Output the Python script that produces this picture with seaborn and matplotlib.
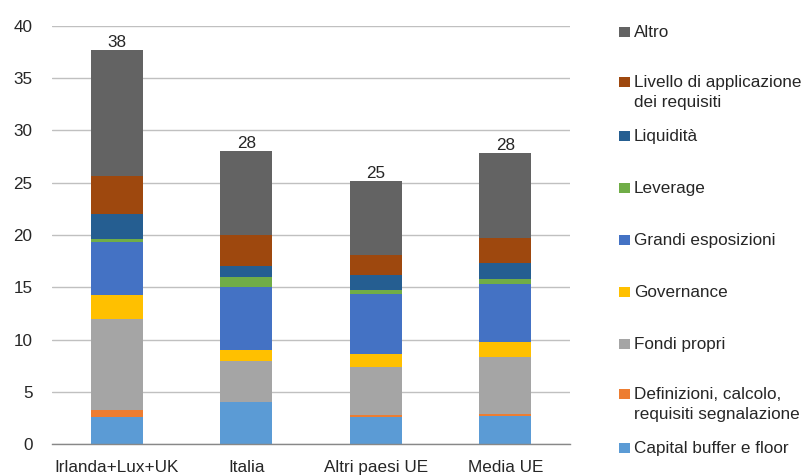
import numpy as np
import pandas as pd
import matplotlib
matplotlib.use("Agg")
import matplotlib.pyplot as plt
from matplotlib.patches import Rectangle
import seaborn as sns

# Country groups on the x axis
groups = ["Irlanda+Lux+UK", "Italia", "Altri paesi UE", "Media UE"]

# Stacked components, bottom to top
capital_buffer = [2.64, 4.0, 2.60, 2.70]
definizioni = [0.66, 0.0, 0.16, 0.19]
fondi_propri = [8.64, 4.0, 4.64, 5.48]
governance = [2.35, 1.0, 1.21, 1.37]
grandi_esposizioni = [5.00, 6.0, 5.76, 5.60]
leverage = [0.35, 1.0, 0.33, 0.42]
liquidita = [2.33, 1.0, 1.43, 1.59]
livello_applicazione = [3.66, 3.0, 1.94, 2.35]
altro = [12.03, 8.0, 7.10, 8.10]

series_names = [
    "Capital buffer e floor",
    "Definizioni, calcolo,\nrequisiti segnalazione",
    "Fondi propri",
    "Governance",
    "Grandi esposizioni",
    "Leverage",
    "Liquidità",
    "Livello di applicazione\ndei requisiti",
    "Altro",
]
series_values = [capital_buffer, definizioni, fondi_propri, governance,
                 grandi_esposizioni, leverage, liquidita,
                 livello_applicazione, altro]
colors = ["#5B9BD5", "#ED7D31", "#A5A5A5", "#FFC000", "#4472C4",
          "#70AD47", "#255E91", "#9E480E", "#636363"]

sns.set_style("white")
plt.rcParams["font.family"] = ["Liberation Sans", "DejaVu Sans"]

W, H = 806, 475
fig = plt.figure(figsize=(W / 100, H / 100), dpi=100)
ax = fig.add_axes([52 / W, 1 - 444.3 / H, (570 - 52) / W, (444.3 - 25.7) / H])

# Cumulative tops: draw the tallest layer first, then overlay lower ones
values = np.array(series_values)
cum = np.cumsum(values, axis=0)
df = pd.DataFrame({"gruppo": groups})
first_container = None
for i in range(len(series_names) - 1, -1, -1):
    df["top"] = cum[i]
    sns.barplot(data=df, x="gruppo", y="top", color=colors[i], width=0.4,
                saturation=1, linewidth=0, ax=ax, zorder=2)
    if first_container is None:
        first_container = ax.containers[-1]

totals = cum[-1]
ax.bar_label(first_container, labels=[f"{t:.0f}" for t in totals],
             padding=0, fontsize=12.3, color="#262626")

ax.set_ylim(0, 40)
ax.set_yticks(np.arange(0, 41, 5))
ax.set_xlim(-0.5, len(groups) - 0.5)
ax.set_xlabel("")
ax.set_ylabel("")
ax.yaxis.grid(True, color="#c0c0c0", linewidth=1.0)
ax.set_axisbelow(True)
for side in ["left", "right", "top"]:
    ax.spines[side].set_visible(False)
ax.spines["bottom"].set_color("#888888")
ax.spines["bottom"].set_linewidth(1.0)
ax.spines["bottom"].set_zorder(3)
ax.tick_params(axis="both", length=0, labelsize=12.3, colors="#262626")
ax.tick_params(axis="y", pad=14)
ax.tick_params(axis="x", pad=11)

# Legend on the right, top entry is the top of the stack
step = 52.0
y0 = 32.3
for k, i in enumerate(range(len(series_names) - 1, -1, -1)):
    yc = y0 + k * step
    lines = series_names[i].split("\n")
    if len(lines) > 1:
        yc -= 2.0
    fig.add_artist(Rectangle((619 / W, 1 - (yc + 5) / H), 10.5 / W, 10 / H,
                             transform=fig.transFigure, color=colors[i],
                             linewidth=0))
    for j, line in enumerate(lines):
        fig.text(634 / W, 1 - (yc + j * 20) / H, line, fontsize=12.3,
                 color="#262626", va="center", ha="left")

fig.savefig("out.png", dpi=100)
